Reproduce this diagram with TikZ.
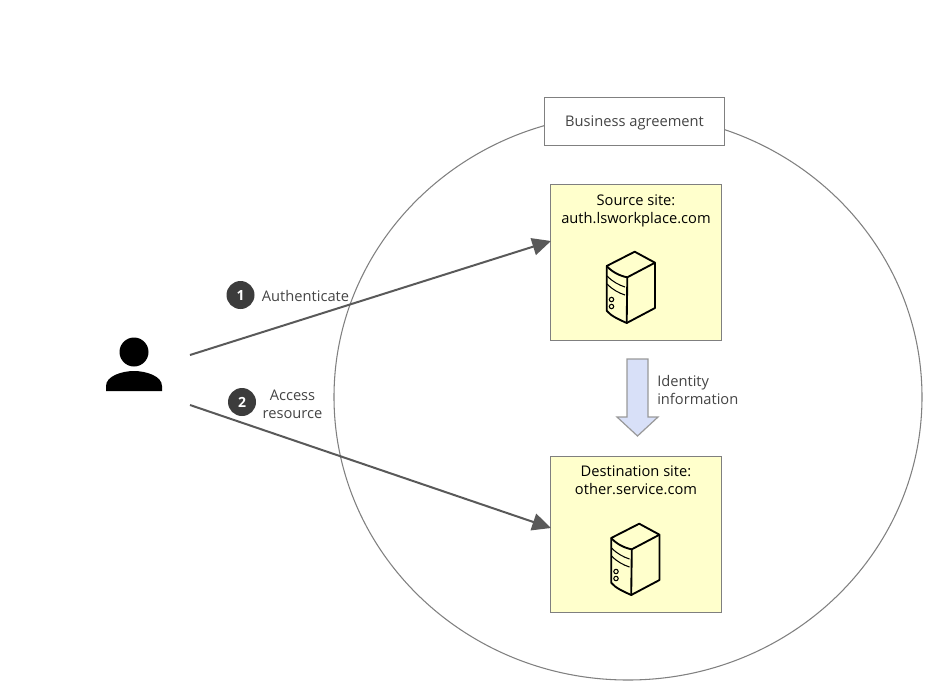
\documentclass[tikz,border=0pt]{standalone}
\usepackage{fontspec}
\setmainfont{Open Sans}
\usetikzlibrary{arrows.meta,shapes.geometric}
\definecolor{txt}{HTML}{444444}
\definecolor{badge}{HTML}{3C3C3C}
\definecolor{sitefill}{HTML}{FFFFCC}
\definecolor{sitedraw}{HTML}{7F7F7F}
\definecolor{flowfill}{HTML}{D8E0F8}
\tikzset{
  x=0.75pt,y=-0.75pt,
  label text/.style={font=\fontsize{11pt}{13.5pt}\selectfont,text=txt,align=center,inner sep=0pt},
  sitebox/.style={draw=sitedraw,fill=sitefill,line width=0.75pt,minimum width=128.25pt,minimum height=117pt,inner sep=0pt,anchor=north west},
  site title/.style={font=\fontsize{11pt}{13.5pt}\selectfont,text=black,align=center,inner sep=0pt},
  flow/.style={draw=black!65,line width=1.5pt,-{Triangle[length=14pt,width=13pt]}},
  numbadge/.style={circle,fill=badge,text=white,font=\fontsize{10.5pt}{12pt}\selectfont\bfseries,minimum size=21pt,inner sep=0pt},
  srv/.style={draw=black,line width=1.4pt,line join=round,fill=sitefill},
  srvthin/.style={draw=black,line width=0.8pt}
}
\newcommand{\servericon}[2]{%
  \begin{scope}[shift={(#1,#2)}]
    \path[srv] (606.7,266) -- (634.7,251.7) -- (655,262.7) -- (655,308) -- (626.7,323)
      .. controls (618,319) and (611,316) .. (606.7,310.7) -- cycle;
    \draw[srv,fill=none] (606.7,266) .. controls (612,272) and (620,276) .. (627.3,277.3) -- (655,262.7);
    \draw[srv,fill=none] (627.3,277.3) -- (626.7,323);
    \draw[srvthin] (607,276) .. controls (613,282) and (619,285) .. (625,287);
    \draw[srvthin] (607,284) .. controls (613,290) and (619,293) .. (625,295);
    \draw[srvthin] (611.5,299.5) circle [radius=2.2];
    \draw[srvthin] (611.5,306.5) circle [radius=2.2];
  \end{scope}}
\begin{document}
\begin{tikzpicture}
\useasboundingbox (0,0) rectangle (928,683);
% agreement ellipse
\node[ellipse,draw=black!50,line width=0.8pt,minimum width=441pt,minimum height=424.5pt,inner sep=0pt] (agreement) at (628,397) {};
\node[draw=black!50,fill=white,line width=0.75pt,minimum width=135pt,minimum height=36pt,inner sep=0pt,label text,text depth=0pt] (biz) at (634.5,121.5) {Business agreement};
% sites
\node[sitebox] (source) at (550,184) {};
\node[sitebox] (dest) at (550,456) {};
\node[site title] (sourcet) at (636,211) {Source site:\\auth.lsworkplace.com};
\node[site title] (destt) at (636,480.5) {Destination site:\\other.service.com};
\servericon{0}{0}
\servericon{4.5}{272}
% person
\fill[black] (134,352) circle [radius=14.5];
\fill[black] (106,391) -- (106,386) .. controls (106,376) and (122,371) .. (134,371)
  .. controls (146,371) and (162,376) .. (162,386) -- (162,391) -- cycle;
\coordinate (user1) at (190,355);
\coordinate (user2) at (190,405);
\coordinate (in1) at (551,241);
\coordinate (in2) at (551,528);
\draw[flow] (user1) -- (in1);
\draw[flow] (user2) -- (in2);
% labels
\node[numbadge] (n1) at (240.5,295) {1};
\node[numbadge] (n2) at (242,402) {2};
\node[label text] (auth) at (305.5,296) {Authenticate};
\node[label text] (access) at (292.5,404) {Access\\resource};
% identity arrow
\draw[draw=black!40,fill=flowfill,line width=0.9pt,line join=miter]
  (627,359) -- (648,359) -- (648,417) -- (658,417) -- (637.5,436) -- (617,417) -- (627,417) -- cycle;
\node[label text,align=left,anchor=west] (identity) at (657,389.5) {Identity\\information};
\end{tikzpicture}
\end{document}
